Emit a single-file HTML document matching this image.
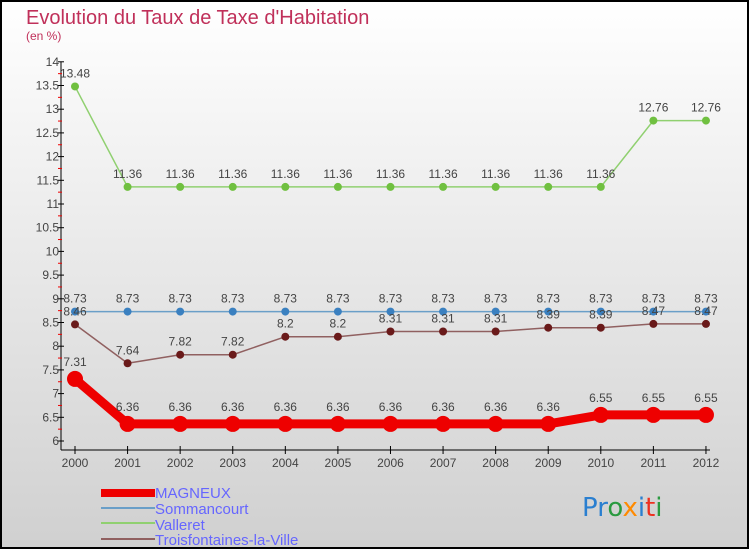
<!DOCTYPE html>
<html><head><meta charset="utf-8"><style>
html,body{margin:0;padding:0}
body{width:750px;height:550px;overflow:hidden;font-family:"Liberation Sans",sans-serif}
</style></head><body>
<svg id="chart" width="750" height="550" xmlns="http://www.w3.org/2000/svg">
<defs><linearGradient id="bg" x1="0" y1="0" x2="0" y2="1"><stop offset="0" stop-color="#ffffff"/><stop offset="1" stop-color="#d0d0d0"/></linearGradient></defs>
<rect x="1" y="1" width="747" height="547" fill="url(#bg)" stroke="#000" stroke-width="2"/>
<text x="26" y="24" font-size="20" fill="#c0305a">Evolution du Taux de Taxe d'Habitation</text>
<text x="26" y="40" font-size="12" fill="#c0305a">(en %)</text>
<g id="axes"></g><g id="series"></g>
<g font-size="15" fill="#6666ff">
<rect x="101" y="489" width="54" height="8" fill="#ee0000"/>
<text x="155" y="498">MAGNEUX</text>
<rect x="101" y="507" width="54" height="2" fill="#6a9fc8"/>
<text x="155" y="514">Sommancourt</text>
<rect x="101" y="522" width="54" height="2" fill="#90d070"/>
<text x="155" y="530">Valleret</text>
<rect x="101" y="538" width="54" height="2" fill="#906060"/>
<text x="155" y="545">Troisfontaines-la-Ville</text>
</g>
<text x="582" y="516" font-size="26" font-family="DejaVu Sans,sans-serif"><tspan fill="#2a7fd0">Pr</tspan><tspan fill="#2a9a40">o</tspan><tspan fill="#ff8a00">x</tspan><tspan fill="#2a7fd0">i</tspan><tspan fill="#ee3020">t</tspan><tspan fill="#2a9a40">i</tspan></text>
</svg>
<script>
const years=["2000","2001","2002","2003","2004","2005","2006","2007","2008","2009","2010","2011","2012"];
const magneux=[7.31,6.36,6.36,6.36,6.36,6.36,6.36,6.36,6.36,6.36,6.55,6.55,6.55];
const sommancourt=[8.73,8.73,8.73,8.73,8.73,8.73,8.73,8.73,8.73,8.73,8.73,8.73,8.73];
const valleret=[13.48,11.36,11.36,11.36,11.36,11.36,11.36,11.36,11.36,11.36,11.36,12.76,12.76];
const troisfontaines=[8.46,7.64,7.82,7.82,8.2,8.2,8.31,8.31,8.31,8.39,8.39,8.47,8.47];
const yTicks=["6","6.5","7","7.5","8","8.5","9","9.5","10","10.5","11","11.5","12","12.5","13","13.5","14"];
const NS="http://www.w3.org/2000/svg";
const x=i=>75+i*52.58;
const y=v=>441-(v-6)*47.4;
function mk(t,a,p){const e=document.createElementNS(NS,t);for(const k in a)e.setAttribute(k,a[k]);p.appendChild(e);return e;}
const ax=document.getElementById('axes');
let l=mk('line',{x1:61,y1:y(14),x2:61,y2:450,stroke:'#000'},ax);


l=mk('line',{x1:61,y1:450,x2:710,y2:450,stroke:'#000'},ax);


yTicks.forEach(t=>{const v=parseFloat(t);
 mk('line',{x1:58,x2:64,y1:y(v),y2:y(v),stroke:'#000'},ax);
 mk('line',{x1:58,x2:62,y1:y(v+0.25),y2:y(v+0.25),stroke:'#e00'},ax).setAttribute('visibility',v<14?'visible':'hidden');
 const tx=mk('text',{x:59,y:y(v)+4,'font-size':12,'text-anchor':'end',fill:'#444'},ax);tx.textContent=t;
 
 
});
years.forEach((yr,i)=>{mk('line',{x1:x(i),x2:x(i),y1:446,y2:454,stroke:'#000'},ax);
 const tx=mk('text',{x:x(i),y:467,'font-size':12,'text-anchor':'middle',fill:'#444'},ax);tx.textContent=yr;
 
 
});
const sg=document.getElementById('series');
function draw(data,name,color,w,r,dot){
 const g=mk('g',{},sg);
 
 
 mk('polyline',{points:data.map((v,i)=>x(i)+','+y(v)).join(' '),fill:'none',stroke:color,'stroke-width':w,'stroke-linejoin':'round'},g);
 data.forEach((v,i)=>{const c=mk('circle',{cx:x(i),cy:y(v),r:r,fill:dot},g);
  
  
  const t=mk('text',{x:x(i),y:y(v)-9-(r>5?4:0),'font-size':12,'text-anchor':'middle',fill:'#444'},g);t.textContent=String(v);
  
  });
}
draw(valleret,'valleret','#90d070',1.5,4,'#70c040');
draw(sommancourt,'sommancourt','#6a9fc8',1.5,4,'#3a80c0');
draw(troisfontaines,'troisfontaines','#906060',1.5,4,'#6a1a1a');
draw(magneux,'magneux','#ee0000',9,8,'#ee0000');
</script>
</body></html>
